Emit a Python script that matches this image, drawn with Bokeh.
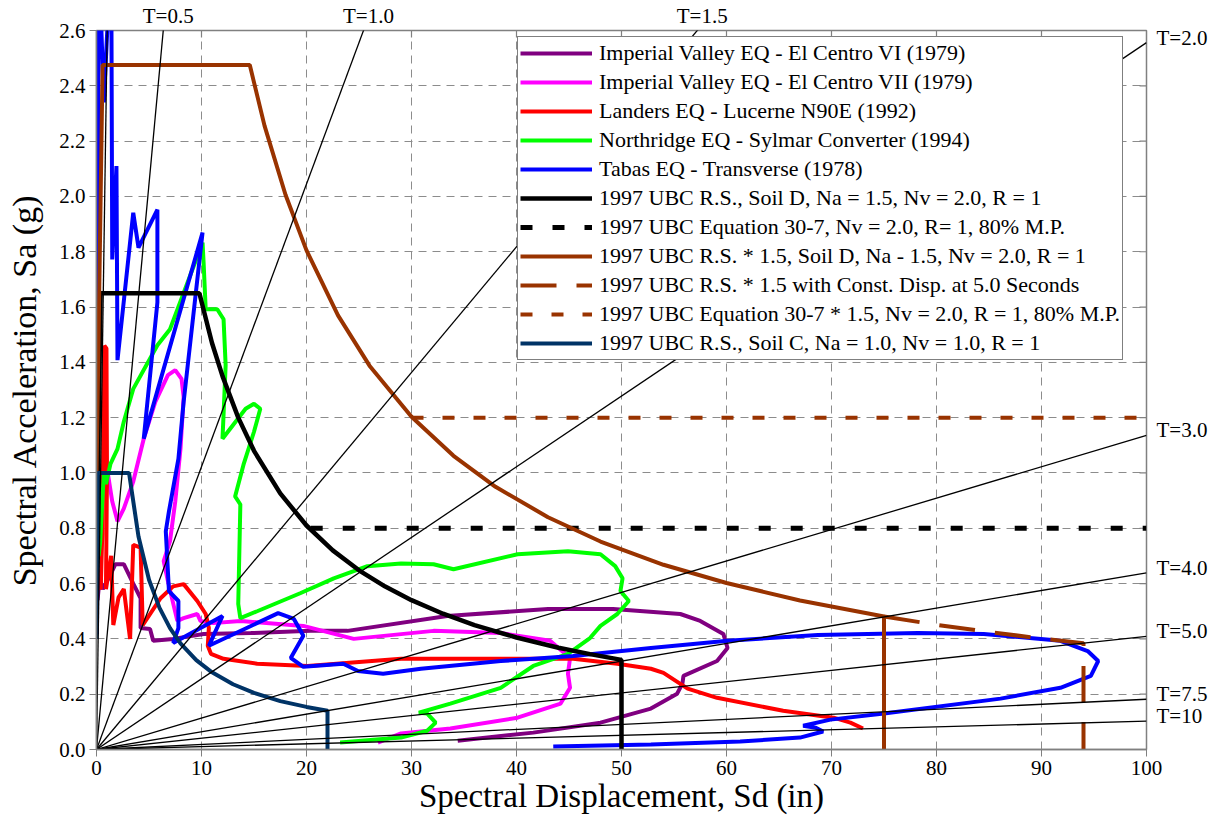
import math
from bokeh.plotting import figure
from bokeh.models import (Range1d, Legend, LegendItem, LinearAxis, FixedTicker,
                          SingleIntervalTicker, PrintfTickFormatter)
from bokeh.embed import file_html
from bokeh.resources import INLINE

FONT = "Liberation Serif"
G_IN = 386.1  # in/s^2
X_MAX, Y_MAX = 100.0, 2.6

# constant-period radial lines
periods = [0.2, 0.5, 1.0, 1.5, 2.0, 3.0, 4.0, 5.0, 7.5, 10.0]
top_labels = [0.5, 1.0, 1.5]
right_labels = [2.0, 3.0, 4.0, 5.0, 7.5, 10.0]
top_label_txt = ["T=0.5", "T=1.0", "T=1.5"]
right_label_txt = ["T=2.0", "T=3.0", "T=4.0", "T=5.0", "T=7.5", "T=10"]

# ---- earthquake spectra (Sd in, Sa g) ----
purple_sd = [0.1, 0.3, 0.6, 1.3, 1.8, 2.6, 3.5, 4.2, 4.2, 5.1, 5.4, 7.3, 10.2, 14.7, 20.4, 23.9,
             33.4, 43.0, 49.2, 55.6, 57.5, 59.7, 60.1, 59.1, 55.9, 55.8, 55.3, 52.8, 48.0, 41.6, 34.4]
purple_sa = [0.54, 0.62, 0.58, 0.63, 0.67, 0.67, 0.60, 0.547, 0.439, 0.436, 0.393, 0.40, 0.418, 0.421,
             0.429, 0.429, 0.483, 0.508, 0.508, 0.49, 0.465, 0.418, 0.367, 0.32, 0.266, 0.238, 0.202,
             0.148, 0.097, 0.061, 0.032]

magenta_sd = [1.05, 1.5, 2.0, 2.6, 3.5, 4.5, 5.6, 6.8, 7.5, 8.1, 8.3, 8.0, 7.5, 7.0, 6.4, 6.8, 7.7,
              8.3, 9.6, 9.9, 11.1, 13.7, 19.7, 24.5, 32.1, 38.5, 43.2, 45.1, 44.9, 45.1, 44.2, 40.1,
              33.7, 29.0, 26.8]
magenta_sa = [1.005, 0.897, 0.825, 0.871, 0.969, 1.124, 1.257, 1.354, 1.372, 1.34, 1.275, 1.088,
              0.897, 0.753, 0.681, 0.609, 0.465, 0.475, 0.49, 0.465, 0.457, 0.465, 0.447, 0.40,
              0.429, 0.421, 0.393, 0.331, 0.274, 0.223, 0.166, 0.115, 0.076, 0.058, 0.025]

red_sd = [0.05, 0.4, 0.55, 0.75, 0.95, 1.0, 0.9, 1.4, 1.6, 2.1, 2.6, 3.2, 3.5, 4.2, 4.4, 6.1, 7.3,
          8.3, 9.6, 10.4, 10.7, 10.6, 10.9, 12.1, 15.3, 20.1, 29.0, 38.5, 45.4, 49.6, 52.8, 54.0,
          56.3, 59.1, 65.4, 70.2, 71.8, 73.0]
red_sa = [0.60, 0.58, 0.78, 1.46, 1.45, 1.0, 0.58, 0.70, 0.45, 0.55, 0.58, 0.40, 0.74, 0.73, 0.45,
          0.547, 0.59, 0.598, 0.537, 0.49, 0.44, 0.375, 0.346, 0.328, 0.31, 0.302, 0.328, 0.328,
          0.328, 0.31, 0.292, 0.277, 0.22, 0.187, 0.14, 0.115, 0.097, 0.076]

green_sd = [0.1, 0.15, 0.2, 0.35, 0.5, 0.7, 0.9, 1.33, 2.0, 2.6, 3.5, 5.8, 7.0, 10.1, 10.2, 10.4,
            11.5, 12.1, 12.3, 12.1, 12.0, 14.2, 15.0, 15.6, 15.0, 14.0, 13.2, 13.7, 13.5, 13.7, 15.3,
            19.4, 22.6, 25.8, 29.0, 32.1, 34.0, 40.1, 44.9, 48.0, 49.4, 50.1, 49.9, 50.7, 49.6, 48.0,
            47.0, 44.9, 41.6, 38.5, 33.7, 30.7, 31.5, 32.3, 31.5, 29.0, 23.2]
green_sa = [1.25, 0.95, 0.70, 0.75, 0.86, 1.0, 0.96, 1.033, 1.087, 1.185, 1.304, 1.462, 1.52,
            1.833, 1.761, 1.592, 1.592, 1.556, 1.39, 1.21, 1.124, 1.232, 1.25, 1.232, 1.149, 1.03,
            0.915, 0.886, 0.526, 0.475, 0.50, 0.565, 0.619, 0.663, 0.673, 0.67, 0.652, 0.706, 0.717,
            0.706, 0.663, 0.619, 0.573, 0.537, 0.49, 0.447, 0.403, 0.346, 0.302, 0.223, 0.166, 0.133,
            0.13, 0.097, 0.068, 0.043, 0.025]

blue_sd = [0.05, 0.2, 0.7, 1.4, 1.5, 1.9, 2.0, 3.5, 4.0, 5.8, 5.8, 4.5, 10.1, 8.3, 7.8, 6.9, 6.6,
           6.9, 7.8, 7.8, 7.3, 12.0, 10.7, 17.3, 18.8, 19.7, 18.5, 19.7, 23.5, 24.9, 27.3, 30.9,
           38.5, 45.4, 52.8, 60.1, 68.7, 78.2, 84.5, 91.8, 94.4, 95.4, 94.7, 91.8, 86.1, 75.0, 69.9,
           67.3, 68.5, 69.2, 67.0, 61.3, 52.8, 43.5]
blue_sa = [0.418, 2.9, 2.34, 2.9, 1.772, 2.11, 1.408, 1.941, 1.815, 1.952, 1.617, 1.124, 1.869,
           1.257, 1.051, 0.861, 0.789, 0.573, 0.537, 0.439, 0.385, 0.483, 0.375, 0.493, 0.472, 0.411,
           0.331, 0.299, 0.31, 0.284, 0.274, 0.292, 0.32, 0.338, 0.367, 0.393, 0.414, 0.421, 0.418,
           0.393, 0.356, 0.32, 0.266, 0.223, 0.184, 0.13, 0.108, 0.086, 0.079, 0.065, 0.043, 0.029,
           0.018, 0.011]

# ---- 1997 UBC spectra ----
ubc_d_sd = [0.0, 0.39, 9.8, 11, 12, 13.5, 15, 17.5, 20, 22.5, 25, 27.5, 30, 33, 36, 40, 44, 47, 50, 50]
ubc_d_sa = [0.66, 1.65, 1.65, 1.47, 1.35, 1.20, 1.08, 0.926, 0.81, 0.72, 0.648, 0.589, 0.54, 0.491,
            0.45, 0.405, 0.368, 0.345, 0.324, 0.0]
eq307_sd = [20.4, 100]
eq307_sa = [0.8, 0.8]
ubc_d15_sd = [0.0, 0.58, 14.6, 16, 18, 20, 23, 26, 30, 34, 38, 43, 48, 54, 60, 67, 75, 75]
ubc_d15_sa = [0.99, 2.475, 2.475, 2.256, 2.006, 1.805, 1.57, 1.388, 1.203, 1.062, 0.95, 0.84, 0.752,
              0.668, 0.602, 0.539, 0.481, 0.0]
const_sd = [75, 80, 85, 90, 94, 94]
const_sa = [0.481, 0.451, 0.425, 0.401, 0.384, 0.0]
eq307_15_sd = [30.0, 100]
eq307_15_sa = [1.2, 1.2]
ubc_c_sd = [0.0, 0.12, 3.1, 4, 5, 6, 7, 8, 9.5, 11, 13, 15, 17.5, 20, 22, 22]
ubc_c_sa = [0.40, 1.0, 1.0, 0.77, 0.614, 0.512, 0.439, 0.384, 0.323, 0.279, 0.236, 0.205, 0.175,
            0.154, 0.14, 0.0]

# ---- layout ----
FIG_W, FIG_H = 1218, 824
LEFT, RIGHT, TOP, BOTTOM = 96, 72, 27, 75
PX_PER_X = (FIG_W - LEFT - RIGHT) / X_MAX
PX_PER_Y = (FIG_H - TOP - BOTTOM) / Y_MAX

p = figure(width=FIG_W, height=FIG_H, output_backend="svg", toolbar_location=None,
           x_range=Range1d(0, X_MAX), y_range=Range1d(0, Y_MAX),
           min_border_left=LEFT, min_border_right=RIGHT, min_border_top=TOP,
           min_border_bottom=BOTTOM)
p.background_fill_color = "white"
p.border_fill_color = "white"
p.outline_line_color = "#808080"
p.outline_line_width = 1.5

p.xgrid.ticker = SingleIntervalTicker(interval=10)
p.ygrid.ticker = SingleIntervalTicker(interval=0.2)
for g in (p.xgrid[0], p.ygrid[0]):
    g.grid_line_color = "#8c8c8c"
    g.grid_line_dash = "8 6"
    g.grid_line_width = 1

p.xaxis.ticker = SingleIntervalTicker(interval=10)
p.yaxis.ticker = SingleIntervalTicker(interval=0.2)
p.yaxis.formatter = PrintfTickFormatter(format="%.1f")
p.xaxis.axis_label = "Spectral Displacement, Sd (in)"
p.yaxis.axis_label = "Spectral Acceleration, Sa (g)"
for ax in (p.xaxis[0], p.yaxis[0]):
    ax.axis_label_text_font = FONT
    ax.axis_label_text_font_style = "normal"
    ax.axis_label_text_color = "black"
    ax.major_label_text_font = FONT
    ax.major_label_text_font_size = "21px"
    ax.major_label_text_color = "black"
    ax.axis_line_color = "#808080"
    ax.axis_line_width = 1.5
    ax.major_tick_line_color = "#808080"
    ax.major_tick_in = 0
    ax.major_tick_out = 7
    ax.minor_tick_line_color = None
    ax.major_label_standoff = 4
p.xaxis.axis_label_text_font_size = "33px"
p.yaxis.axis_label_text_font_size = "34px"
p.xaxis.axis_label_standoff = 0
p.yaxis.axis_label_standoff = 13

# T labels: axes outside the box whose ticks sit where the period lines meet its edges
def slope(T):
    return (2 * math.pi / T) ** 2 / G_IN   # Sa (g) per inch of Sd

right_ticks = [round(X_MAX * slope(T) + 5 / PX_PER_Y, 4) for T in right_labels]
top_ticks = [round(Y_MAX / slope(T) + 5 / PX_PER_X, 4) for T in top_labels]
for loc, ticks, txts, standoff in (("right", right_ticks, right_label_txt, 10),
                                    ("above", top_ticks, top_label_txt, 3)):
    ax = LinearAxis(ticker=FixedTicker(ticks=ticks),
                    major_label_overrides={t: s for t, s in zip(ticks, txts)},
                    major_label_text_font=FONT, major_label_text_font_size="21px",
                    major_label_text_color="black", axis_line_color=None,
                    major_tick_line_color=None, major_tick_in=0, major_tick_out=0,
                    minor_tick_line_color=None, major_label_standoff=standoff)
    p.add_layout(ax, loc)

# inward tick marks on the right and top edges
r_ticks = [round(0.2 * i, 1) for i in range(1, 13)]
t_ticks = [10.0 * i for i in range(1, 10)]
p.segment(x0=[X_MAX - 7 / PX_PER_X] * len(r_ticks), y0=r_ticks, x1=[X_MAX] * len(r_ticks),
          y1=r_ticks, line_color="#808080", line_width=1.2)
p.segment(x0=t_ticks, y0=[Y_MAX - 7 / PX_PER_Y] * len(t_ticks), x1=t_ticks,
          y1=[Y_MAX] * len(t_ticks), line_color="#808080", line_width=1.2)

W = 4
r_purple = p.line(purple_sd, purple_sa, line_color="#800080", line_width=W)
r_magenta = p.line(magenta_sd, magenta_sa, line_color="#FF00FF", line_width=W)
r_red = p.line(red_sd, red_sa, line_color="#FF0000", line_width=W)
r_green = p.line(green_sd, green_sa, line_color="#00FF00", line_width=W)
r_blue = p.line(blue_sd, blue_sa, line_color="#0000FF", line_width=W)

r_ubcd = p.line(ubc_d_sd, ubc_d_sa, line_color="black", line_width=4.5)
r_eq = p.line(eq307_sd, eq307_sa, line_color="black", line_width=5, line_dash="12 20")
r_ubcd15 = p.line(ubc_d15_sd, ubc_d15_sa, line_color="#993300", line_width=W)
r_const = p.line(const_sd, const_sa, line_color="#993300", line_width=W, line_dash="36 20")
r_eq15 = p.line(eq307_15_sd, eq307_15_sa, line_color="#993300", line_width=W, line_dash="12 19")
r_ubcc = p.line(ubc_c_sd, ubc_c_sa, line_color="#003366", line_width=W)

for T in periods:
    p.line([0, X_MAX], [0, X_MAX * slope(T)], line_color="black", line_width=1.3)

items = [
    ("Imperial Valley EQ - El Centro VI (1979)", r_purple),
    ("Imperial Valley EQ - El Centro VII (1979)", r_magenta),
    ("Landers EQ - Lucerne N90E (1992)", r_red),
    ("Northridge EQ - Sylmar Converter (1994)", r_green),
    ("Tabas EQ - Transverse (1978)", r_blue),
    ("1997 UBC R.S., Soil D, Na = 1.5, Nv = 2.0, R = 1", r_ubcd),
    ("1997 UBC Equation 30-7, Nv = 2.0, R= 1, 80% M.P.", r_eq),
    ("1997 UBC R.S. * 1.5, Soil D, Na - 1.5, Nv = 2.0, R = 1", r_ubcd15),
    ("1997 UBC R.S. * 1.5 with Const. Disp. at 5.0 Seconds", r_const),
    ("1997 UBC Equation 30-7 * 1.5, Nv = 2.0, R = 1, 80% M.P.", r_eq15),
    ("1997 UBC R.S., Soil C, Na = 1.0, Nv = 1.0, R = 1", r_ubcc),
]
legend = Legend(items=[LegendItem(label=t, renderers=[r]) for t, r in items],
                location=(421, 389), orientation="vertical")
legend.label_text_font = FONT
legend.label_text_font_size = "22px"
legend.label_text_color = "black"
legend.glyph_width = 72
legend.glyph_height = 28
legend.label_height = 28
legend.spacing = 1
legend.padding = 2
legend.margin = 0
legend.label_standoff = 7
legend.border_line_color = "black"
legend.border_line_width = 1
legend.background_fill_color = "white"
legend.background_fill_alpha = 1.0
p.add_layout(legend, "center")

open("out.html", "w").write(file_html(p, INLINE))
